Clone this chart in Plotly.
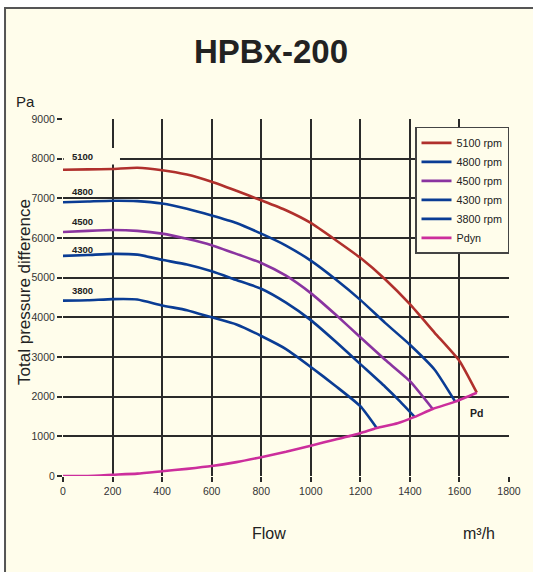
import plotly.graph_objects as go

# ---- data ----
flow_5100 = [0, 100, 200, 300, 400, 500, 600, 700, 800, 900, 1000, 1100, 1200, 1300, 1400, 1500, 1600, 1670]
p_5100 = [7720, 7730, 7740, 7770, 7710, 7600, 7420, 7190, 6950, 6700, 6380, 5950, 5500, 4960, 4330, 3610, 2900, 2100]

flow_4800 = [0, 100, 200, 300, 400, 500, 600, 700, 800, 900, 1000, 1100, 1200, 1300, 1400, 1500, 1583]
p_4800 = [6900, 6920, 6940, 6930, 6870, 6740, 6570, 6380, 6110, 5810, 5430, 4960, 4440, 3860, 3310, 2680, 1875]

flow_4500 = [0, 100, 200, 300, 400, 500, 600, 700, 800, 900, 1000, 1100, 1200, 1300, 1400, 1492]
p_4500 = [6150, 6180, 6200, 6180, 6110, 5980, 5820, 5600, 5370, 5050, 4610, 4070, 3500, 2930, 2390, 1690]

flow_4300 = [0, 100, 200, 300, 400, 500, 600, 700, 800, 900, 1000, 1100, 1200, 1300, 1360, 1419]
p_4300 = [5550, 5570, 5600, 5580, 5450, 5330, 5160, 4940, 4720, 4370, 3930, 3390, 2820, 2250, 1880, 1490]

flow_3800 = [0, 100, 200, 300, 400, 500, 600, 700, 800, 900, 1000, 1100, 1200, 1266]
p_3800 = [4420, 4430, 4460, 4450, 4300, 4180, 4000, 3820, 3530, 3200, 2750, 2270, 1760, 1210]

flow_pdyn = [0, 100, 200, 300, 400, 500, 600, 700, 800, 900, 1000, 1100, 1200, 1266, 1350, 1419, 1492, 1583, 1670]
p_pdyn = [0, 0, 30, 60, 120, 180, 250, 350, 475, 610, 765, 920, 1080, 1210, 1330, 1490, 1690, 1875, 2100]

series = [
    ("5100 rpm", flow_5100, p_5100, "#B0302C"),
    ("4800 rpm", flow_4800, p_4800, "#0A3C94"),
    ("4500 rpm", flow_4500, p_4500, "#8A34A0"),
    ("4300 rpm", flow_4300, p_4300, "#0A3C94"),
    ("3800 rpm", flow_3800, p_3800, "#0A3C94"),
    ("Pdyn", flow_pdyn, p_pdyn, "#CC2E9C"),
]

curve_labels = ["5100", "4800", "4500", "4300", "3800"]
curve_label_y = [8050, 7180, 6420, 5720, 4670]

x_ticks = [0, 200, 400, 600, 800, 1000, 1200, 1400, 1600, 1800]
y_ticks = [0, 1000, 2000, 3000, 4000, 5000, 6000, 7000, 8000, 9000]

CREAM = "#FFFDEB"
GRID = "#2a2a2a"
FONT = "Liberation Sans Narrow, Liberation Sans, Arial, sans-serif"
SANS = "Liberation Sans, Arial, sans-serif"

fig = go.Figure()
for name, fx, py, col in series:
    fig.add_trace(go.Scatter(x=fx, y=py, mode="lines", name=name,
                             line=dict(color=col, width=2.6, shape="spline", smoothing=0.5)))

# background panel
fig.add_shape(type="rect", xref="paper", yref="paper", x0=-0.13, x1=1.2, y0=-0.5, y1=1.311,
              fillcolor=CREAM, line=dict(color="#555555", width=2), layer="below")
# box behind the first curve label (hides grid lines there)
fig.add_shape(type="rect", xref="x", yref="y", x0=3, x1=230, y0=7850, y1=8270,
              fillcolor=CREAM, line=dict(width=0), layer="between")

annotations = []
for lab, ly in zip(curve_labels, curve_label_y):
    annotations.append(dict(x=30, y=ly, xref="x", yref="y", text="<b>" + lab + "</b>",
                            showarrow=False, xanchor="left", yanchor="middle",
                            font=dict(size=9.5, color="#222222", family=FONT)))
annotations += [
    dict(x=0.466, y=1.190, xref="paper", yref="paper", text="<b>HPBx-200</b>", showarrow=False,
         font=dict(size=33, color="#222222", family=SANS), xanchor="center", yanchor="middle"),
    dict(x=-0.084, y=1.048, xref="paper", yref="paper", text="Pa", showarrow=False,
         font=dict(size=15, color="#222222", family=SANS), xanchor="center", yanchor="middle"),
    dict(x=-0.088, y=0.515, xref="paper", yref="paper", text="Total pressure difference", showarrow=False,
         textangle=-90, font=dict(size=17, color="#222222", family=SANS),
         xanchor="center", yanchor="middle"),
    dict(x=0.463, y=-0.160, xref="paper", yref="paper", text="Flow", showarrow=False,
         font=dict(size=16, color="#222222", family=SANS), xanchor="center", yanchor="middle"),
    dict(x=0.933, y=-0.160, xref="paper", yref="paper", text="m³/h", showarrow=False,
         font=dict(size=16, color="#222222", family=SANS), xanchor="center", yanchor="middle"),
    dict(x=1635, y=1800, xref="x", yref="y", text="<b>Pd</b>", showarrow=False,
         font=dict(size=10.5, color="#222222", family=FONT), xanchor="left", yanchor="top"),
]

fig.update_layout(
    width=533, height=572,
    margin=dict(l=63, r=24, t=119, b=96),
    paper_bgcolor="white", plot_bgcolor=CREAM,
    showlegend=True,
    legend=dict(x=1.0, y=0.978, xanchor="right", yanchor="top",
                bgcolor=CREAM, bordercolor="#444444", borderwidth=1.5,
                font=dict(size=10.8, color="#222222", family=FONT),
                itemwidth=30, tracegroupgap=0),
    annotations=annotations,
    xaxis=dict(range=[0, 1800], tickvals=x_ticks, ticktext=[str(v) for v in x_ticks],
               showgrid=True, gridcolor=GRID, gridwidth=1.8, zeroline=False, showline=False,
               ticks="outside", ticklen=5, tickcolor=GRID, tickwidth=1.5,
               tickfont=dict(size=10.5, color="#333333", family=FONT), fixedrange=True),
    yaxis=dict(range=[0, 9000], tickvals=y_ticks, ticktext=[str(v) for v in y_ticks],
               showgrid=True, gridcolor=GRID, gridwidth=1.8, zeroline=False, showline=False,
               ticks="outside", ticklen=5, tickcolor=GRID, tickwidth=1.5,
               tickfont=dict(size=10.5, color="#333333", family=FONT), fixedrange=True),
)

fig.write_html("out.html", config={"displayModeBar": False},
               post_script="document.body.style.margin='0';document.body.style.overflow='hidden';")
